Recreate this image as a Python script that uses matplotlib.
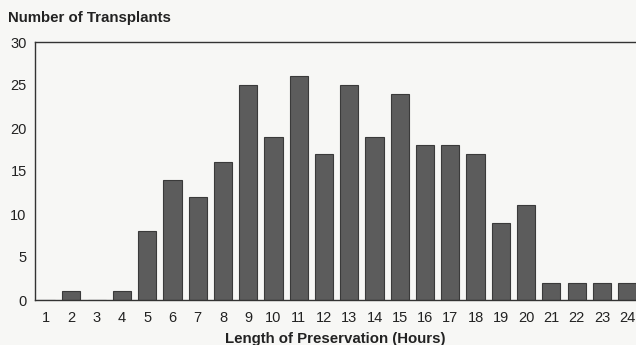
import numpy as np
import matplotlib.pyplot as plt

plt.rcParams['font.family'] = ['Liberation Sans', 'DejaVu Sans']

hours = list(range(1, 25))
transplants = [0, 1, 0, 1, 8, 14, 12, 16, 25, 19, 26, 17, 25, 19, 24, 18, 18, 17, 9, 11, 2, 2, 2, 2]
yticks = [0, 5, 10, 15, 20, 25, 30]

bg = '#f7f7f5'
fig = plt.figure(figsize=(6.36, 3.45), dpi=100, facecolor=bg)
ax = fig.add_axes([35/636, 45/345, 601/636, 258/345], facecolor=bg)

ax.bar(hours, transplants, width=0.72, color='#5c5c5c', edgecolor='#3a3a3a', linewidth=0.8)

ax.set_xlim(0.56, 24.35)
ax.set_ylim(0, 30)
ax.set_xticks(hours)
ax.set_yticks(yticks)
ax.tick_params(length=0, labelsize=10.5, colors='#222222', pad=8)
ax.tick_params(axis='y', pad=6)
for lab in ax.get_xticklabels() + ax.get_yticklabels():
    lab.set_fontweight('medium')

ax.spines['right'].set_visible(False)
for s in ['left', 'top', 'bottom']:
    ax.spines[s].set_color('#333333')
    ax.spines[s].set_linewidth(1.0)

fig.text(8/636, 1 - 18/345, 'Number of Transplants', fontsize=10.8, fontweight='bold',
         color='#222222', va='center', ha='left')
fig.text(335/636, 1 - 339/345, 'Length of Preservation (Hours)', fontsize=10.8,
         fontweight='bold', color='#222222', va='center', ha='center')

fig.savefig('out.png', dpi=100, facecolor=bg)
